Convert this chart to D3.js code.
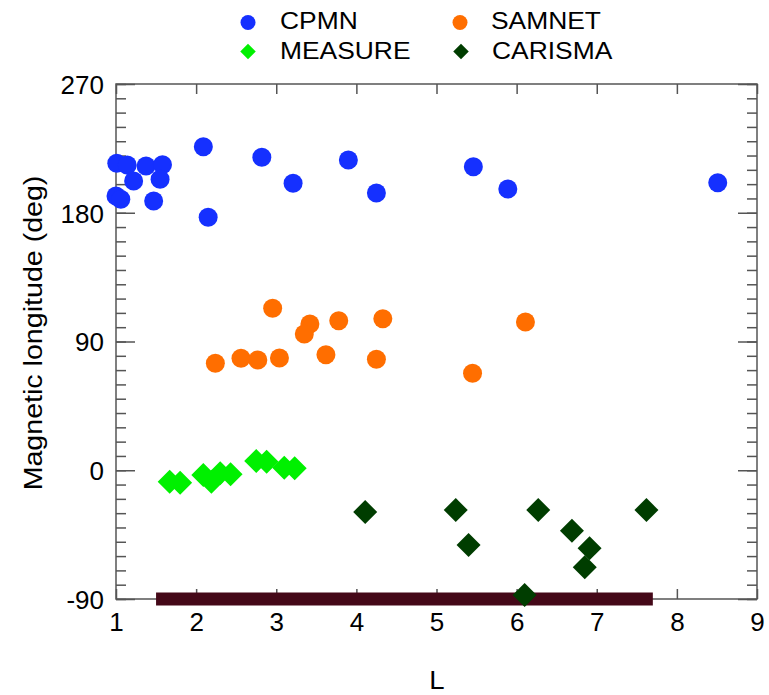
<!DOCTYPE html>
<html><head><meta charset="utf-8">
<script src="https://cdn.jsdelivr.net/npm/d3@7"></script>
<style>body{margin:0;background:#fff}svg{display:block}text{font-family:"Liberation Sans",Arial,sans-serif;fill:#000}</style>
</head><body>
<script>
const cpmnL   = [1.01,1.14,1.375,1.58,1.22,1.55,1.0,1.06,1.47,2.09,2.15,2.82,3.21,3.9,4.25,5.46,5.89,8.51];
const cpmnLon = [214.6,213.4,212.7,213.6,202.2,203.4,191.7,189.4,188.2,226.2,176.8,218.8,200.6,216.9,193.8,212.2,196.6,201.0];
const samnetL   = [2.955,3.42,3.35,3.78,4.33,6.11,2.24,2.56,2.77,3.04,3.62,4.25,5.45];
const samnetLon = [113.2,102.2,95.2,104.5,105.9,103.6,74.8,78.3,77.1,78.5,80.8,77.6,67.8];
const measureL   = [1.67,1.80,2.09,2.19,2.30,2.43,2.75,2.88,3.10,3.23];
const measureLon = [-8.0,-8.7,-3.3,-8.0,-2.1,-2.8,6.5,6.0,1.8,1.4];
const carismaL   = [4.11,5.24,5.40,6.27,6.69,6.91,6.85,7.62,6.10];
const carismaLon = [-29.2,-27.8,-52.3,-27.8,-42.3,-54.6,-67.8,-27.8,-87.2];
const rangeL = [1.5, 7.7];
const rangeLon = -90;
const xTicks = [1,2,3,4,5,6,7,8,9];
const yTicks = [-90,0,90,180,270];
const seriesNames = ["CPMN","SAMNET","MEASURE","CARISMA"];

const W = 769, H = 695;
const FONT = '"Liberation Sans",Arial,sans-serif';
const svg = d3.select("body").append("svg").attr("width", W).attr("height", H);
const x = d3.scaleLinear().domain([1,9]).range([116,757]);
const y = d3.scaleLinear().domain([-90,270]).range([599,84]);
const colors = {CPMN:"#1530ff", SAMNET:"#ff6e00", MEASURE:"#00f000", CARISMA:"#003d00"};
const frame = "#555";
const fmt = d => String(d);

// axes: bottom, top, left, right
const minor = d3.range(-90,271,10);
const axB = d3.axisBottom(x).tickValues(xTicks).tickSize(-10).tickPadding(14).tickFormat(fmt);
const axT = d3.axisTop(x).tickValues(xTicks).tickSize(-10).tickFormat("");
const gB = svg.append("g").attr("transform", `translate(0,${y(-90)})`).call(axB);
const gT = svg.append("g").attr("transform", `translate(0,${y(270)})`).call(axT);
const axL = d3.axisLeft(y).tickValues(minor).tickSize(-10).tickFormat("");
const axR = d3.axisRight(y).tickValues(minor).tickSize(-10).tickFormat("");
const gL = svg.append("g").attr("transform", `translate(${x(1)},0)`).call(axL);
const gR = svg.append("g").attr("transform", `translate(${x(9)},0)`).call(axR);
const axLM = d3.axisLeft(y).tickValues(yTicks).tickSize(-19).tickPadding(12).tickFormat(fmt);
const axRM = d3.axisRight(y).tickValues(yTicks).tickSize(-19).tickFormat("");
const gLM = svg.append("g").attr("transform", `translate(${x(1)},0)`).call(axLM);
const gRM = svg.append("g").attr("transform", `translate(${x(9)},0)`).call(axRM);
[gB,gT,gL,gR,gLM,gRM].forEach(g=>{
  g.select(".domain").remove();
  g.selectAll("line").attr("stroke", frame).attr("stroke-width",1.5);
  g.selectAll("text").attr("font-size",26).attr("font-family",FONT).attr("fill","#000");
});
gLM.selectAll("text").attr("x", -12).attr("text-anchor","end").attr("dy","0.36em");
gB.selectAll("text").attr("dy","0.71em");
svg.append("rect").attr("x",x(1)).attr("y",y(270)).attr("width",x(9)-x(1)).attr("height",y(-90)-y(270))
  .attr("fill","none").attr("stroke",frame).attr("stroke-width",1.5);

// range bar
svg.append("line").attr("x1",x(rangeL[0])).attr("x2",x(rangeL[1])).attr("y1",y(rangeLon)).attr("y2",y(rangeLon))
  .attr("stroke","#440818").attr("stroke-width",13);

const diamond = d3.symbol().type(d3.symbolSquare).size(288);
function circles(Ls, lons, c){
  svg.append("g").selectAll("circle").data(Ls).join("circle")
    .attr("cx",(d)=>x(d)).attr("cy",(d,i)=>y(lons[i])).attr("r",9.5).attr("fill",c);
}
function diamonds(Ls, lons, c){
  svg.append("g").selectAll("path").data(Ls).join("path")
    .attr("d",diamond).attr("transform",(d,i)=>`translate(${x(d)},${y(lons[i])}) rotate(45)`).attr("fill",c);
}
circles(cpmnL, cpmnLon, colors.CPMN);
circles(samnetL, samnetLon, colors.SAMNET);
diamonds(measureL, measureLon, colors.MEASURE);
diamonds(carismaL, carismaLon, colors.CARISMA);

// axis titles
svg.append("text").attr("transform","translate(437,689) scale(1.1,1)").attr("text-anchor","middle").attr("font-size",25).text("L");
svg.append("text").attr("transform","translate(42,333) rotate(-90) scale(1.1,1)").attr("text-anchor","middle").attr("font-size",26).text("Magnetic longitude (deg)");

// legend
const leg = [
  {n:seriesNames[0], sx:248, sy:22.5, tx:280, ty:28.5, shape:"c"},
  {n:seriesNames[1], sx:460, sy:22.5, tx:491, ty:28.5, shape:"c"},
  {n:seriesNames[2], sx:248, sy:51.5, tx:280, ty:58.5, shape:"d"},
  {n:seriesNames[3], sx:461, sy:51.5, tx:492, ty:58.5, shape:"d"}
];
const lg = svg.append("g");
leg.forEach(l=>{
  if(l.shape==="c") lg.append("circle").attr("cx",l.sx).attr("cy",l.sy).attr("r",7.5).attr("fill",colors[l.n]);
  else lg.append("path").attr("d",d3.symbol().type(d3.symbolSquare).size(120)).attr("transform",`translate(${l.sx},${l.sy}) rotate(45)`).attr("fill",colors[l.n]);
  lg.append("text").attr("transform",`translate(${l.tx},${l.ty}) scale(1.1,1)`).attr("font-size",24).text(l.n);
});
</script>
</body></html>
